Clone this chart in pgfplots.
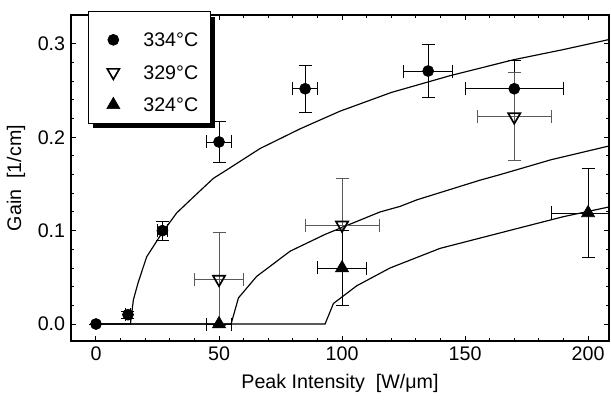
\documentclass[border=0pt]{standalone}
\usepackage{fontspec}
\setmainfont{Liberation Sans}
\usepackage{pgfplots}
\pgfplotsset{compat=1.18}

\begin{document}
\begin{tikzpicture}
\begin{axis}[
  scale only axis,
  width=322.8pt, height=195.6pt,
  xmin=-10.16, xmax=208.5,
  ymin=-0.0182, ymax=0.331,
  xtick={0,50,...,200},
  ytick={0,0.1,0.2,0.3},
  minor x tick num=4,
  minor y tick num=4,
  tick align=inside,
  major tick length=3pt,
  minor tick length=1.8pt,
  every tick/.style={black, line width=0.6pt},
  axis line style={line width=1.1pt},
  /pgf/number format/assume math mode=true,
  yticklabel style={/pgf/number format/fixed, /pgf/number format/fixed zerofill, /pgf/number format/precision=1},
  tick label style={font=\fontsize{11.8}{14}\selectfont},
  label style={font=\fontsize{11.8}{14}\selectfont},
  xlabel={Peak Intensity\ \ [W/μm]},
  ylabel={Gain\ \ [1/cm]},
  xlabel style={at={(axis description cs:0.5,-0.1288)}, anchor=center},
  ylabel style={at={(axis description cs:-0.1022,0.5)}, anchor=center},
  legend cell align=left,
  legend image code/.code={\path[draw=none, fill=none] (-8pt,-5pt) rectangle (8pt,5pt); \draw[#1] plot coordinates {(0pt,0pt)};},
  legend style={name=leg, at={(axis description cs:0,1)}, anchor=north west,
    xshift=10.2pt, yshift=2.1pt, draw=none, fill=white,
    inner xsep=7pt, inner ysep=5.8pt, row sep=9.5pt,
    nodes={inner sep=0pt, text depth=0pt},
    font=\fontsize{11.8}{14}\selectfont},
  error bars/error bar style={line width=0.5pt},
  error bars/error mark options={rotate=90, mark size=3.9pt, line width=0.5pt},
]
% --- legend images ---
\addlegendimage{only marks, black, mark=*, mark size=3.3pt,
  legend image code/.code={\path[draw=none, fill=none] (-8pt,-5pt) rectangle (8pt,11pt); \draw[##1] plot coordinates {(0pt,0pt)};}}
\addlegendentry{\hspace*{10pt}334°C}
\addlegendimage{only marks, black, mark=triangle, mark size=4.2pt,
  mark options={rotate=180, fill=white, line width=1pt}}
\addlegendentry{\hspace*{10pt}329°C}
\addlegendimage{only marks, black, mark=triangle*, mark size=4.5pt}
\addlegendentry{\hspace*{10pt}324°C}
% --- model curves ---
\addplot[black, line width=0.7pt, forget plot] coordinates {
  (0,0) (14,0) (14.5,0.011) (15.2,0.026) (17.2,0.045) (20.6,0.072) (26.7,0.097)
  (32.8,0.119) (39.6,0.136) (47.7,0.156) (53.1,0.165) (66.7,0.188) (82.9,0.209)
  (99.2,0.228) (120,0.248) (143.9,0.266) (169.6,0.283) (190,0.294) (209,0.305)};
\addplot[black, line width=0.7pt, forget plot] coordinates {
  (0,0) (54.9,0) (57.9,0.028) (65.3,0.051) (78.9,0.078) (93.1,0.096) (115.4,0.12)
  (123.6,0.126) (130.4,0.133) (156,0.154) (164.2,0.16) (185,0.176) (209,0.191)};
\addplot[black, line width=0.7pt, forget plot] coordinates {
  (0,0) (93.1,0) (96.5,0.022) (106,0.041) (119.5,0.06) (139.8,0.081) (173.7,0.104)
  (190,0.115) (209.6,0.126)};
% --- 334 C ---
\addplot[only marks, black, mark=*, mark size=3.3pt, forget plot,
  error bars/.cd, x dir=both, x explicit, y dir=both, y explicit,
  error bar style={black}] coordinates {
  (0,0) +- (0,0)
  (13,0.01) +- (1,0.004)
  (27,0.10) +- (2,0.01)
  (50,0.195) +- (5,0.022)
  (85,0.252) +- (5,0.025)
  (135,0.271) +- (10,0.028)
  (170,0.252) +- (20,0.03)};
% --- 329 C ---
\addplot[only marks, black, mark=triangle, mark size=4.2pt, forget plot,
  mark options={rotate=180, fill=white, line width=1pt},
  error bars/.cd, x dir=both, x explicit, y dir=both, y explicit,
  error bar style={black!65}] coordinates {
  (50,0.048) +- (10,0.05)
  (100,0.106) +- (15,0.05)
  (170,0.222) +- (15,0.047)};
% --- 324 C ---
\addplot[only marks, black, mark=triangle*, mark size=4.5pt, forget plot,
  error bars/.cd, x dir=both, x explicit, y dir=both, y explicit,
  error bar style={black}] coordinates {
  (50,0) +- (5,0)
  (100,0.06) +- (10,0.04)
  (200,0.119) +- (15,0.048)};
\end{axis}
% frame and shadow of the legend box
\draw[line width=0.6pt] (leg.south west) rectangle (leg.north east);
\fill[black] (leg.south east) rectangle ([xshift=3pt,yshift=-3pt]leg.north east);
\fill[black] ([xshift=3pt,yshift=-3pt]leg.south west) rectangle ([xshift=3pt]leg.south east);
\path (-42.6pt,-37.2pt) rectangle (324pt,204.6pt);
\end{tikzpicture}
\end{document}
